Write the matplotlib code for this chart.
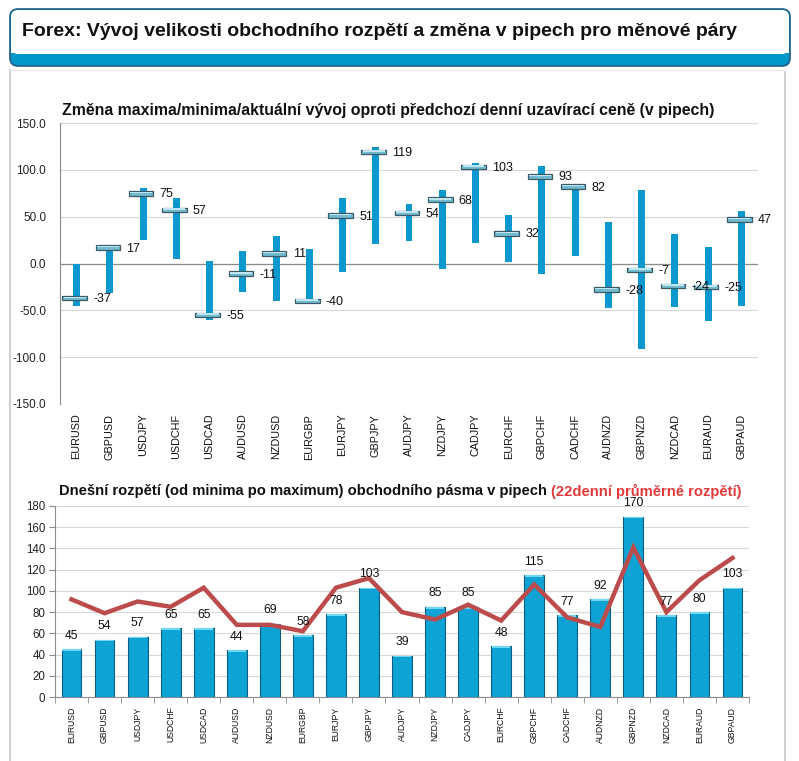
import matplotlib
matplotlib.use('Agg')
import matplotlib.pyplot as plt
from matplotlib.patches import FancyBboxPatch
import numpy as np

plt.rcParams['font.family'] = ['Liberation Sans', 'DejaVu Sans']

W, H, DPI = 799, 761, 100

# ── data ─────────────────────────────────────────────────────────────────────
pairs = ['EURUSD', 'GBPUSD', 'USDJPY', 'USDCHF', 'USDCAD', 'AUDUSD', 'NZDUSD',
         'EURGBP', 'EURJPY', 'GBPJPY', 'AUDJPY', 'NZDJPY', 'CADJPY', 'EURCHF',
         'GBPCHF', 'CADCHF', 'AUDNZD', 'GBPNZD', 'NZDCAD', 'EURAUD', 'GBPAUD']

# change vs. previous daily close (pips)
current = [-37, 17, 75, 57, -55, -11, 11, -40, 51, 119, 54, 68, 103, 32,
           93, 82, -28, -7, -24, -25, 47]
high = [0, 20, 81, 70, 3, 13, 29, 15, 70, 124, 63, 79, 107, 52,
        104, 84, 44, 78, 31, 18, 56]
low = [-45, -32, 25, 5, -60, -30, -40, -42, -9, 21, 24, -6, 22, 2,
       -11, 8, -47, -91, -46, -61, -45]

# today's range and 22-day average range (pips)
day_range = [45, 54, 57, 65, 65, 44, 69, 58, 78, 103, 39, 85, 85, 48,
             115, 77, 92, 170, 77, 80, 103]
avg22 = [92, 79, 90, 85, 103, 68, 68, 62, 103, 112, 80, 73, 87, 72,
         106, 75, 66, 141, 80, 110, 131]

top_ticks = [-150, -100, -50, 0, 50, 100, 150]
bot_ticks = [0, 20, 40, 60, 80, 100, 120, 140, 160, 180]

BLUE = '#0A98CE'
GRID = '#D9D9D9'

fig = plt.figure(figsize=(W / DPI, H / DPI), dpi=DPI)

# ── background frame (pixel coords) ──────────────────────────────────────────
bg = fig.add_axes([0, 0, 1, 1])
bg.set_xlim(0, W)
bg.set_ylim(H, 0)
bg.axis('off')

# content panel
bg.plot([10, 10], [70, H], color='#C8C8C8', lw=1.2)
bg.plot([785, 785], [72, H], color='#C8C8C8', lw=1.2)
bg.plot([10, 785], [70, 70], color='#EAEAEA', lw=1)

# header box
bg.add_patch(FancyBboxPatch((10, 9), 780, 57,
             boxstyle='round,pad=0,rounding_size=8',
             fc='#0097CC', ec='#1F5F88', lw=1.2, zorder=2))
bg.add_patch(FancyBboxPatch((11, 10), 778, 44,
             boxstyle='round,pad=0,rounding_size=7',
             fc='white', ec='none', zorder=3))
bg.add_patch(plt.Rectangle((11, 40), 778, 13, fc='white', ec='none', zorder=3))
bg.text(22, 31, 'Forex: Vývoj velikosti obchodního rozpětí a změna v pipech pro měnové páry',
        fontsize=14, fontweight='bold', color='#111111', ha='left', va='center', zorder=5)

x = np.arange(len(pairs))

# ═════════════════════════════════════════════════════════════════════════════
# 1. TOP CHART — change of high / low / current vs. previous close
# ═════════════════════════════════════════════════════════════════════════════
ax1 = fig.add_axes([60 / W, 1 - 404 / H, (758 - 60) / W, (404 - 123) / H])
ax1.set_xlim(-0.5, len(pairs) - 0.5)
ax1.set_ylim(-150, 150)

hi = np.array(high)
lo = np.array(low)
cur = np.array(current)

ax1.bar(x, hi - lo, bottom=lo, width=0.21, color=BLUE, zorder=3)
mk = 5.0
ax1.bar(x - 0.06, mk, bottom=cur - mk / 2, width=0.74,
        color='#72BCD2', edgecolor='#3C5A66', lw=0.9, zorder=4)
ax1.bar(x - 0.06, mk * 0.3, bottom=cur + mk * 0.05, width=0.66,
        color='#BFE6F0', lw=0, zorder=5)

for xi, v in zip(x, current):
    ax1.text(xi + 0.5, v - 1, f'{v}', fontsize=9, ha='left', va='center',
             color='#111111', zorder=6)

ax1.set_yticks(top_ticks)
ax1.set_yticklabels([f'{t:.1f}' for t in top_ticks], fontsize=8.5, color='#222222')
ax1.yaxis.grid(True, color=GRID, lw=0.8, zorder=0)
ax1.axhline(0, color='#8C8C8C', lw=0.9, zorder=2)
ax1.set_xticks(x)
ax1.set_xticklabels(pairs, rotation=90, fontsize=7.8, color='#111111')
ax1.tick_params(axis='x', length=0, pad=7)
ax1.tick_params(axis='y', length=0, pad=10)
for s in ['top', 'right', 'bottom']:
    ax1.spines[s].set_visible(False)
ax1.spines['left'].set_color('#8C8C8C')
ax1.set_axisbelow(True)

fig.text(62 / W, 1 - 110 / H,
         'Změna maxima/minima/aktuální vývoj oproti předchozí denní uzavírací ceně (v pipech)',
         fontsize=11.4, fontweight='bold', color='#111111', ha='left', va='center')

# ═════════════════════════════════════════════════════════════════════════════
# 2. BOTTOM CHART — today's range and 22-day average
# ═════════════════════════════════════════════════════════════════════════════
ax2 = fig.add_axes([55 / W, 1 - 697 / H, (749 - 55) / W, (697 - 506) / H])
ax2.set_xlim(-0.5, len(pairs) - 0.5)
ax2.set_ylim(0, 180)

rng = np.array(day_range)
ax2.bar(x, rng, width=0.6, color='#0FA3D5', edgecolor='#0B5E80', lw=0.8, zorder=3)
ax2.bar(x, 1.6, bottom=rng - 1.6, width=0.56, color='#6FD8F5', lw=0, zorder=4)
ax2.plot(x, avg22, color='#BC4B4B', lw=3.2, solid_joinstyle='miter', zorder=5)

for xi, v in zip(x, day_range):
    ax2.text(xi, v + 7, f'{v}', fontsize=8.8, ha='center', va='bottom',
             color='#111111', zorder=6)

ax2.set_yticks(bot_ticks)
ax2.set_yticklabels([str(t) for t in bot_ticks], fontsize=8.3, color='#222222')
ax2.yaxis.grid(True, color=GRID, lw=0.8, zorder=0)
ax2.set_xticks(x)
ax2.set_xticklabels(pairs, rotation=90, fontsize=6.2, color='#111111')
ax2.set_xticks(np.arange(-0.5, len(pairs), 1), minor=True)
ax2.tick_params(axis='x', which='major', length=0, pad=7)
ax2.tick_params(axis='x', which='minor', length=4, color='#8C8C8C')
ax2.tick_params(axis='y', length=4, color='#8C8C8C', pad=3)
for s in ['top', 'right']:
    ax2.spines[s].set_visible(False)
ax2.spines['left'].set_color('#8C8C8C')
ax2.spines['bottom'].set_color('#8C8C8C')
ax2.set_axisbelow(True)

t1 = fig.text(59 / W, 1 - 491 / H,
              'Dnešní rozpětí (od minima po maximum) obchodního pásma v pipech ',
              fontsize=10.6, fontweight='bold', color='#111111', ha='left', va='center')
fig.canvas.draw()
bb = t1.get_window_extent()
fig.text(bb.x1 / W, 1 - 491 / H, '(22denní průměrné rozpětí)',
         fontsize=10.6, fontweight='bold', color='#E03A3A', ha='left', va='center')

fig.savefig('out.png', dpi=DPI, facecolor='white')
